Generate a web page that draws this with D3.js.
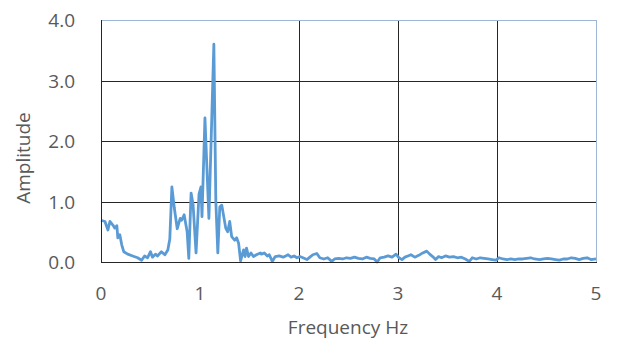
<!DOCTYPE html>
<html>
<head>
<meta charset="utf-8">
<script src="https://cdn.jsdelivr.net/npm/d3@7"></script>
<style>
  body { margin: 0; background: #fff; }
  text { font-family: "Open Sans", sans-serif; fill: #595959; }
</style>
</head>
<body>
<script>
// spectrum
var freq = [0.00, 0.04, 0.07, 0.09, 0.12, 0.14, 0.16, 0.17, 0.19, 0.21,
  0.23, 0.27, 0.32, 0.37, 0.41, 0.44, 0.47, 0.50, 0.52, 0.55,
  0.57, 0.61, 0.645, 0.675, 0.695, 0.716, 0.74, 0.77, 0.80, 0.815,
  0.84, 0.87, 0.887, 0.91, 0.93, 0.96, 0.99, 1.01, 1.02, 1.05,
  1.09, 1.14, 1.16, 1.18, 1.20, 1.22, 1.24, 1.26, 1.28, 1.30,
  1.32, 1.35, 1.37, 1.39, 1.41, 1.44, 1.455, 1.47, 1.49, 1.515,
  1.54, 1.57, 1.61, 1.62, 1.65, 1.68, 1.70, 1.73, 1.76, 1.80,
  1.84, 1.89, 1.92, 1.95, 1.98, 2.01, 2.04, 2.08, 2.11, 2.14,
  2.18, 2.21, 2.25, 2.29, 2.33, 2.36, 2.40, 2.44, 2.48, 2.52,
  2.56, 2.60, 2.64, 2.68, 2.72, 2.76, 2.79, 2.82, 2.86, 2.90,
  2.94, 2.98, 3.01, 3.04, 3.07, 3.10, 3.13, 3.17, 3.21, 3.25,
  3.29, 3.32, 3.35, 3.38, 3.41, 3.44, 3.48, 3.52, 3.56, 3.60,
  3.64, 3.68, 3.72, 3.75, 3.79, 3.83, 3.87, 3.91, 3.95, 3.99,
  4.02, 4.06, 4.10, 4.14, 4.18, 4.22, 4.26, 4.30, 4.34, 4.38,
  4.43, 4.47, 4.51, 4.55, 4.59, 4.63, 4.67, 4.71, 4.75, 4.79,
  4.83, 4.87, 4.91, 4.95, 5.00];
var amp = [0.69, 0.67, 0.53, 0.67, 0.61, 0.56, 0.60, 0.40, 0.45, 0.28,
  0.17, 0.13, 0.10, 0.07, 0.03, 0.10, 0.07, 0.17, 0.08, 0.13,
  0.10, 0.17, 0.12, 0.20, 0.38, 1.24, 0.90, 0.55, 0.72, 0.69,
  0.78, 0.50, 0.06, 1.14, 0.95, 0.15, 1.12, 1.24, 0.75, 2.38,
  0.72, 3.60, 1.00, 0.15, 0.91, 0.94, 0.75, 0.56, 0.50, 0.67,
  0.42, 0.36, 0.40, 0.31, 0.02, 0.20, 0.09, 0.23, 0.09, 0.15,
  0.09, 0.12, 0.15, 0.13, 0.15, 0.10, 0.12, 0.01, 0.09, 0.10,
  0.08, 0.12, 0.08, 0.10, 0.07, 0.09, 0.07, 0.04, 0.08, 0.12,
  0.14, 0.07, 0.05, 0.07, 0.01, 0.05, 0.06, 0.05, 0.07, 0.06,
  0.08, 0.06, 0.05, 0.08, 0.06, 0.05, 0.00, 0.07, 0.08, 0.10,
  0.08, 0.13, 0.07, 0.04, 0.08, 0.10, 0.12, 0.08, 0.11, 0.15,
  0.18, 0.13, 0.09, 0.04, 0.09, 0.07, 0.10, 0.08, 0.09, 0.07,
  0.08, 0.05, 0.01, 0.07, 0.05, 0.07, 0.06, 0.05, 0.04, 0.03,
  0.07, 0.05, 0.04, 0.05, 0.04, 0.05, 0.05, 0.06, 0.07, 0.05,
  0.04, 0.05, 0.06, 0.05, 0.04, 0.03, 0.05, 0.05, 0.07, 0.06,
  0.04, 0.06, 0.07, 0.04, 0.05];
var xTicks = [0, 1, 2, 3, 4, 5];
var yTicks = [0, 1, 2, 3, 4];
var xGrid = [2, 3, 4];

var width = 617, height = 340;
var plotL = 101, plotR = 596, plotT = 20, plotB = 262;

var svg = d3.select("body").append("svg")
    .attr("width", width)
    .attr("height", height);

var x = d3.scaleLinear().domain([0, 5]).range([plotL, plotR]);
var y = d3.scaleLinear().domain([0, 4]).range([plotB, plotT]);

// horizontal gridlines
svg.selectAll(".hg").data(yTicks.filter(function(d) { return d > 0 && d < 4; }))
  .enter().append("line")
  .attr("x1", plotL).attr("x2", plotR)
  .attr("y1", function(d) { return Math.round(y(d)) + 0.5; })
  .attr("y2", function(d) { return Math.round(y(d)) + 0.5; })
  .attr("stroke", "#262626").attr("stroke-width", 1);

// vertical gridlines (only these show in the picture)
svg.selectAll(".vg").data(xGrid)
  .enter().append("line")
  .attr("x1", function(d) { return Math.round(x(d)) + 0.5; })
  .attr("x2", function(d) { return Math.round(x(d)) + 0.5; })
  .attr("y1", plotT).attr("y2", plotB)
  .attr("stroke", "#262626").attr("stroke-width", 1);

// plot frame: top/right pale, left/bottom dark
svg.append("line").attr("x1", plotL).attr("x2", plotR)
  .attr("y1", plotT + 0.5).attr("y2", plotT + 0.5)
  .attr("stroke", "#9fb6d4");
svg.append("line").attr("x1", plotR + 0.5).attr("x2", plotR + 0.5)
  .attr("y1", plotT).attr("y2", plotB)
  .attr("stroke", "#9fb6d4");

var line = d3.line()
  .x(function(d, i) { return x(freq[i]); })
  .y(function(d) { return y(d); });

svg.append("path")
  .datum(amp)
  .attr("d", line)
  .attr("fill", "none")
  .attr("stroke", "#5b9bd5")
  .attr("stroke-width", 2.8)
  .attr("stroke-linejoin", "round");

svg.append("line").attr("x1", plotL + 0.5).attr("x2", plotL + 0.5)
  .attr("y1", plotT).attr("y2", plotB + 0.5)
  .attr("stroke", "#262626");
svg.append("line").attr("x1", plotL).attr("x2", plotR + 1)
  .attr("y1", plotB + 0.5).attr("y2", plotB + 0.5)
  .attr("stroke", "#262626");

// tick labels
svg.selectAll(".yl").data(yTicks)
  .enter().append("text")
  .attr("x", 75)
  .attr("y", function(d) { return y(d) + 7; })
  .attr("text-anchor", "end")
  .attr("font-size", "19px")
  .text(function(d) { return d3.format(".1f")(d); });

svg.selectAll(".xl").data(xTicks)
  .enter().append("text")
  .attr("x", function(d) { return x(d); })
  .attr("y", 300)
  .attr("text-anchor", "middle")
  .attr("font-size", "19px")
  .text(function(d) { return d; });

svg.append("text")
  .attr("x", 348).attr("y", 334)
  .attr("text-anchor", "middle")
  .attr("font-size", "19px")
  .text("Frequency Hz");

svg.append("text")
  .attr("transform", "translate(30,158) rotate(-90)")
  .attr("text-anchor", "middle")
  .attr("font-size", "19px")
  .text("Amplitude");
</script>
</body>
</html>
